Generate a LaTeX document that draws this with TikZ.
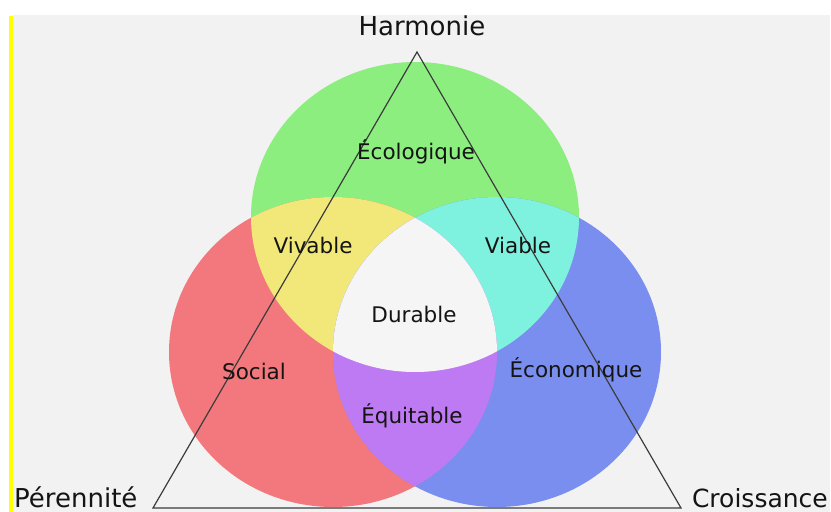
\documentclass[tikz,border=0pt]{standalone}
\usepackage{fontspec}
\setmainfont{DejaVu Sans}
\definecolor{bggray}{RGB}{242,242,242}
\definecolor{barylw}{RGB}{255,255,0}
\definecolor{cgreen}{RGB}{141,238,128}
\definecolor{cred}{RGB}{242,120,125}
\definecolor{cblue}{RGB}{122,142,240}
\definecolor{cyellow}{RGB}{242,232,122}
\definecolor{ccyan}{RGB}{126,242,222}
\definecolor{cpurple}{RGB}{190,122,242}
\definecolor{ccenter}{RGB}{245,245,245}
\definecolor{txtdark}{RGB}{20,20,20}
\definecolor{triline}{RGB}{60,60,60}
\tikzset{
  outerlbl/.style={inner sep=0pt, anchor=base, text=txtdark, font=\fontsize{26}{30}\selectfont},
  innerlbl/.style={inner sep=0pt, anchor=base, text=txtdark, font=\fontsize{21.5}{25}\selectfont},
  triedge/.style={draw=triline, line width=1.2pt, line join=miter}
}
\newcommand{\ellG}{(415,217) ellipse [x radius=164pt, y radius=155pt]}
\newcommand{\ellR}{(333,352) ellipse [x radius=164pt, y radius=155pt]}
\newcommand{\ellB}{(497,352) ellipse [x radius=164pt, y radius=155pt]}
\begin{document}
\begin{tikzpicture}[x=1pt,y=-1pt]
\useasboundingbox (0,0) rectangle (831,512);
\fill[white] (0,0) rectangle (831,512);
\fill[bggray] (13,15) rectangle (830,512);
\fill[barylw] (9,16) rectangle (13,512);
% circles
\fill[cgreen] \ellG;
\fill[cred] \ellR;
\fill[cblue] \ellB;
\begin{scope}
  \clip \ellG;
  \fill[cyellow] \ellR;
  \fill[ccyan] \ellB;
\end{scope}
\begin{scope}
  \clip \ellR;
  \fill[cpurple] \ellB;
\end{scope}
\begin{scope}
  \clip \ellG;
  \clip \ellR;
  \fill[ccenter] \ellB;
\end{scope}
% triangle
\coordinate (apex) at (417,52);
\coordinate (left) at (153,508);
\coordinate (right) at (681,508);
\draw[triedge] (apex) -- (left) -- (right) -- cycle;
% labels
\node[outerlbl] (harm) at (422,35) {Harmonie};
\node[outerlbl, anchor=base west] (peren) at (14,507) {Pérennité};
\node[outerlbl, anchor=base east, font=\fontsize{25}{29}\selectfont] (crois) at (828,507) {Croissance};
\node[innerlbl] (eco) at (416,159) {Écologique};
\node[innerlbl] (viv) at (313,253) {Vivable};
\node[innerlbl] (via) at (518,253) {Viable};
\node[innerlbl] (dur) at (414,322) {Durable};
\node[innerlbl] (soc) at (254,379) {Social};
\node[innerlbl] (econ) at (576,377) {Économique};
\node[innerlbl] (equi) at (412,423) {Équitable};
\end{tikzpicture}
\end{document}
